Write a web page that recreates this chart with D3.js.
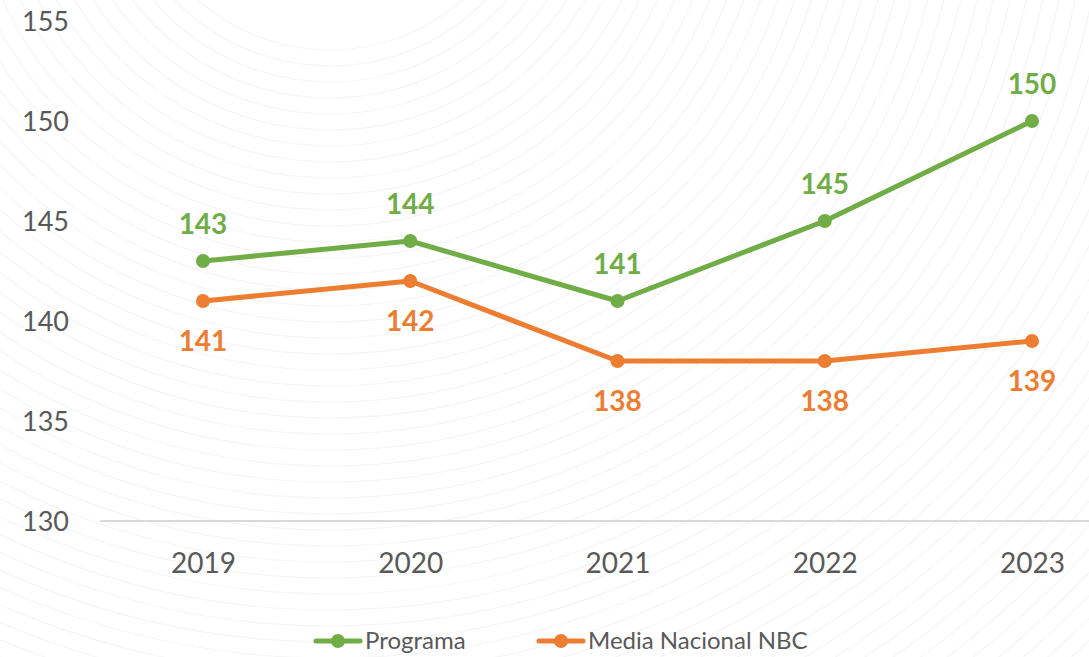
<!DOCTYPE html>
<html><head><meta charset="utf-8">
<script src="https://cdn.jsdelivr.net/npm/d3@7"></script>
<style>html,body{margin:0;padding:0;background:#fff;}svg{display:block;}</style>
</head><body>
<svg id="c" width="1089" height="657"></svg>
<script>
const years = ["2019","2020","2021","2022","2023"];
const programa = [143,144,141,145,150];
const mediaNacional = [141,142,138,138,139];
const yTicks = [130,135,140,145,150,155];
const seriesNames = ["Programa","Media Nacional NBC"];
const colors = ["#70AD47","#ED7D31"];

const W=1089,H=657;
const svg=d3.select("#c");
const font="Lato, 'Open Sans', sans-serif";

// faint background pattern
const bg=svg.append("g");
for(let r=200;r<1400;r+=16){
  bg.append("circle").attr("cx",330).attr("cy",-150).attr("r",r)
    .attr("fill","none").attr("stroke","#f5f5f5").attr("stroke-width",1.2);
}

const x=d3.scalePoint().domain(years).range([203,1032]);
const y=d3.scaleLinear().domain([130,155]).range([521,21]);

// baseline
svg.append("line").attr("x1",100).attr("x2",1089).attr("y1",y(130)).attr("y2",y(130))
  .attr("stroke","#d9d9d9").attr("stroke-width",2);

// y axis
const yAxis=svg.append("g").attr("transform","translate(69,0)")
  .call(d3.axisLeft(y).tickValues(yTicks).tickSize(0).tickPadding(0));
yAxis.select(".domain").remove();
yAxis.selectAll("text").attr("font-family",font).attr("font-size",27).attr("fill","#595959").attr("dy","0.35em");

// x axis
const xAxis=svg.append("g").attr("transform","translate(0,"+y(130)+")")
  .call(d3.axisBottom(x).tickSize(0).tickPadding(0));
xAxis.select(".domain").remove();
xAxis.selectAll("text").attr("font-family",font).attr("font-size",28).attr("fill","#595959").attr("dy","0").attr("y",52);

const data=[programa,mediaNacional];
const line=d3.line().x((d,i)=>x(years[i])).y(d=>y(d));
data.forEach((s,k)=>{
  svg.append("path").datum(s).attr("d",line).attr("fill","none")
    .attr("stroke",colors[k]).attr("stroke-width",5).attr("stroke-linejoin","round");
  svg.selectAll(".pt"+k).data(s).enter().append("circle")
    .attr("cx",(d,i)=>x(years[i])).attr("cy",d=>y(d)).attr("r",7).attr("fill",colors[k]);
  svg.selectAll(".lb"+k).data(s).enter().append("text")
    .attr("x",(d,i)=>x(years[i])).attr("y",d=>y(d)+(k===0?-27:50))
    .attr("text-anchor","middle").attr("font-family",font).attr("font-weight","bold")
    .attr("font-size",28).attr("fill",colors[k]).text(d=>d);
});

// legend
const legX=[316,539];
seriesNames.forEach((n,k)=>{
  const g=svg.append("g").attr("transform","translate("+legX[k]+",641)");
  g.append("line").attr("x1",0).attr("x2",44).attr("y1",0).attr("y2",0)
    .attr("stroke",colors[k]).attr("stroke-width",5).attr("stroke-linecap","round");
  g.append("circle").attr("cx",22).attr("cy",0).attr("r",7).attr("fill",colors[k]);
  g.append("text").attr("x",49).attr("y",0).attr("dy","0.35em").attr("font-family",font)
    .attr("font-size",24).attr("fill","#595959").text(n);
});
</script>
</body></html>
